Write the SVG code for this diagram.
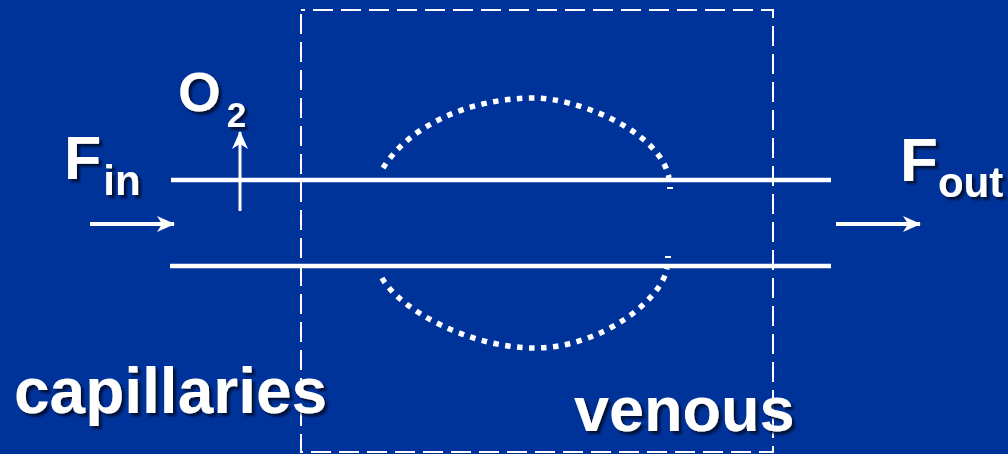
<svg xmlns="http://www.w3.org/2000/svg" width="1008" height="454" viewBox="0 0 1008 454">
<defs>
<style>
.lbl{font-family:"Liberation Sans",Arial,sans-serif;font-weight:bold;fill:#ffffff;filter:url(#sh)}
.tube{stroke:#ffffff;stroke-width:4.5;fill:none}
.dot{stroke:#ffffff;stroke-width:5.5;stroke-dasharray:5.5 6.5;fill:none}
.arr{stroke:#ffffff;fill:none}
</style>
<filter id="sh" x="-10%" y="-10%" width="130%" height="140%">
<feDropShadow dx="3" dy="3" stdDeviation="1.2" flood-color="#001033" flood-opacity="0.9"/>
</filter>
<marker id="ah" viewBox="0 0 18 16" refX="17" refY="8" markerWidth="18" markerHeight="16" markerUnits="userSpaceOnUse" orient="auto">
<path d="M0,0 L18,8 L0,16 L5,8 z" fill="#ffffff"/>
</marker>
</defs>
<rect width="1008" height="454" fill="#003399"/>
<g id="venous-box">
<rect x="301" y="10" width="472" height="442" fill="none" stroke="#ffffff" stroke-width="2" stroke-dasharray="20 8" stroke-dashoffset="16"/>
</g>
<g id="connectors">
<line class="tube" x1="171" y1="180" x2="831" y2="180"/>
<line class="tube" x1="170" y1="266" x2="831" y2="266"/>
<path class="dot" d="M383,168 C410,125 470,98 535,98 C575,98 660,130 669,178"/>
<path class="dot" d="M382,278 C400,310 470,348 535,348 C600,348 662,300 667,268"/>
<line x1="667" y1="188" x2="673" y2="188" stroke="#ffffff" stroke-width="2"/>
<line x1="665" y1="257" x2="671" y2="257" stroke="#ffffff" stroke-width="2"/>
<line class="arr" x1="90" y1="224" x2="174" y2="224" stroke-width="4" marker-end="url(#ah)"/>
<line class="arr" x1="836" y1="224" x2="920" y2="224" stroke-width="4" marker-end="url(#ah)"/>
<line class="arr" x1="240" y1="211" x2="240" y2="132" stroke-width="3" marker-end="url(#ah)"/>
</g>
<g id="fin">
<text class="lbl" x="64" y="179" font-size="61">F<tspan font-size="42" dx="2" dy="16">in</tspan></text>
</g>
<g id="o2">
<text class="lbl" x="178" y="111" font-size="55">O<tspan font-size="35" dx="6" dy="16">2</tspan></text>
</g>
<g id="fout">
<text class="lbl" x="900" y="181" font-size="62">F<tspan font-size="42" dy="16">out</tspan></text>
</g>
<g id="capillaries">
<text class="lbl" x="14" y="413" font-size="64">capillaries</text>
</g>
<g id="venous">
<text class="lbl" x="574" y="431" font-size="63">venous</text>
</g>
</svg>
